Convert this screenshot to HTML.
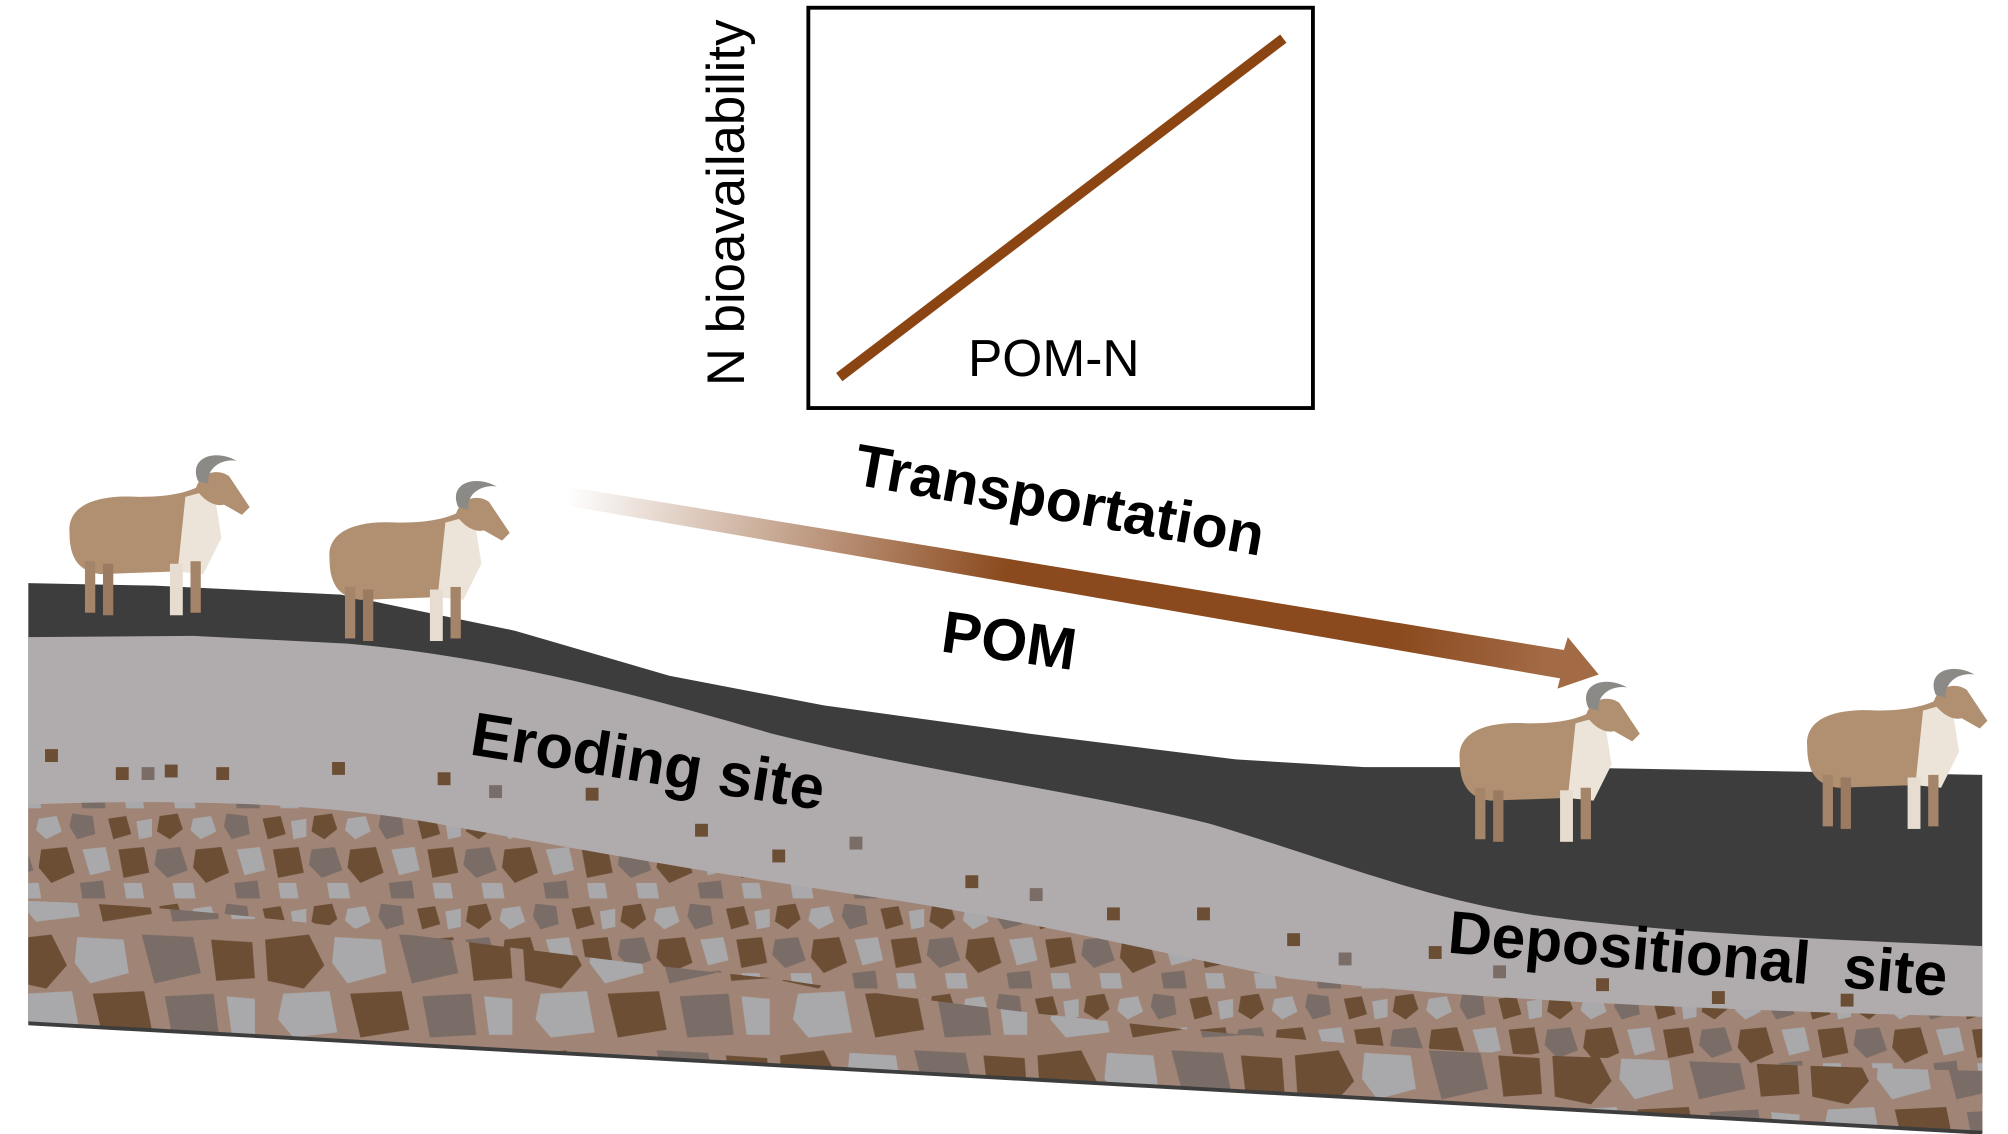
<!DOCTYPE html>
<html><head><meta charset="utf-8"><style>html,body{margin:0;padding:0;background:#fff}svg{display:block}</style></head>
<body>
<svg width="2008" height="1134" viewBox="0 0 1560 881" preserveAspectRatio="none" xmlns="http://www.w3.org/2000/svg">
<defs>
<linearGradient id="ag" x1="440" y1="385" x2="1200" y2="515" gradientUnits="userSpaceOnUse">
<stop offset="0" stop-color="#8b4a1e" stop-opacity="0"/><stop offset="0.45" stop-color="#8b4a1e" stop-opacity="1"/><stop offset="0.85" stop-color="#8b4a1e"/><stop offset="1" stop-color="#a26a45"/></linearGradient>
<pattern id="rk" width="120" height="70" patternUnits="userSpaceOnUse">
<rect width="120" height="70" fill="#a08476"/>
<polygon points="4,4 18,2 22,14 12,22 2,16" fill="#6b4e34"/>
<polygon points="30,6 44,4 48,16 36,22 28,15" fill="#a9a9ab"/>
<polygon points="56,2 72,4 74,18 60,22 54,12" fill="#7a6c66"/>
<polygon points="84,6 98,4 102,18 88,22" fill="#6b4e34"/>
<polygon points="106,8 118,6 118,20 108,22" fill="#a9a9ab"/>
<polygon points="2,30 20,28 26,46 10,52 0,42" fill="#7a6c66"/>
<polygon points="32,30 52,28 58,48 40,56 30,44" fill="#6b4e34"/>
<polygon points="64,30 82,28 86,46 70,50" fill="#a9a9ab"/>
<polygon points="92,30 112,28 116,48 96,52" fill="#6b4e34"/>
<polygon points="14,56 30,56 32,68 16,68" fill="#a9a9ab"/>
<polygon points="62,56 80,54 82,68 64,68" fill="#7a6c66"/>
<polygon points="96,56 110,56 112,68 98,68" fill="#a9a9ab"/>
</pattern>
<pattern id="rk2" width="200" height="90" patternUnits="userSpaceOnUse">
<rect width="200" height="90" fill="#a08476"/>
<polygon points="6,10 40,6 52,30 36,48 8,42" fill="#6b4e34"/>
<polygon points="60,8 96,10 100,36 70,44 58,28" fill="#a9a9ab"/>
<polygon points="110,6 150,8 156,36 120,44" fill="#7a6c66"/>
<polygon points="164,10 196,12 198,40 168,42" fill="#6b4e34"/>
<polygon points="20,52 56,50 62,82 28,86 16,72" fill="#a9a9ab"/>
<polygon points="72,52 112,50 118,80 80,86" fill="#6b4e34"/>
<polygon points="128,54 166,52 170,84 134,86" fill="#7a6c66"/>
<polygon points="176,54 198,56 198,84 180,84" fill="#a9a9ab"/>
</pattern>
<g id="goat">
<path d="M6,58 C4,36 28,28 60,30 C85,30 100,26 110,20 L118,50 C112,74 100,86 88,88 L30,90 C12,88 6,76 6,58Z" fill="#b09070"/>
<path d="M96,30 L118,24 L124,62 L110,90 L90,88 Z" fill="#ece4d8"/>
<rect x="18" y="80" width="8" height="40" fill="#a5856a"/>
<rect x="32" y="82" width="8" height="40" fill="#9a7a60"/>
<rect x="84" y="82" width="10" height="40" fill="#e6ddd0"/>
<rect x="100" y="80" width="8" height="40" fill="#a5856a"/>
<path d="M104,24 C108,10 122,8 130,14 L146,38 L140,44 L126,36 C118,38 110,32 104,24Z" fill="#b09070"/>
<path d="M106,18 C98,0 118,-8 136,2 C124,0 112,8 114,20Z" fill="#8c8a86"/>
</g>
</defs>

<!-- box -->
<rect x="628" y="6" width="392" height="311" fill="#fff" stroke="#000" stroke-width="3"/>
<line x1="652" y1="293" x2="997" y2="30" stroke="#8b4513" stroke-width="8"/>
<text x="752" y="292" font-family="Liberation Sans, sans-serif" font-size="40" fill="#000">POM-N</text>
<text transform="translate(578,300) rotate(-90)" font-family="Liberation Sans, sans-serif" font-size="41" fill="#000">N bioavailability</text>

<!-- layers -->
<polygon points="22,453 120,455 265,462 400,490 520,525 640,548 800,570 960,590 1060,596 1200,596 1540,602 1540,880 22,795" fill="#3d3d3d"/>
<path d="M22,495 L150,494 L270,500 C380,510 480,535 600,570 C720,600 840,615 940,640 C1040,670 1110,700 1200,712 C1300,725 1420,730 1540,735 L1540,880 L22,795Z" fill="#b0acad"/>
<path d="M22,625 C150,620 260,625 340,640 C450,660 560,680 700,700 C820,720 900,740 1000,760 C1150,778 1350,785 1540,790 L1540,880 L22,795Z" fill="url(#rk)"/>
<path d="M22,700 C200,705 400,740 600,760 C800,790 1000,810 1200,820 C1350,826 1450,830 1540,832 L1540,880 L22,795Z" fill="url(#rk2)"/>
<g fill="#6b4e34">
<rect x="35" y="582" width="10" height="10"/><rect x="90" y="596" width="10" height="10"/><rect x="128" y="594" width="10" height="10"/><rect x="168" y="596" width="10" height="10"/><rect x="258" y="592" width="10" height="10"/><rect x="340" y="600" width="10" height="10"/><rect x="455" y="612" width="10" height="10"/><rect x="540" y="640" width="10" height="10"/><rect x="600" y="660" width="10" height="10"/><rect x="750" y="680" width="10" height="10"/><rect x="860" y="705" width="10" height="10"/><rect x="930" y="705" width="10" height="10"/><rect x="1000" y="725" width="10" height="10"/><rect x="1110" y="735" width="10" height="10"/><rect x="1240" y="760" width="10" height="10"/><rect x="1330" y="770" width="10" height="10"/><rect x="1430" y="772" width="10" height="10"/>
</g>
<g fill="#7a6c66"><rect x="110" y="596" width="10" height="10"/><rect x="380" y="610" width="10" height="10"/><rect x="660" y="650" width="10" height="10"/><rect x="800" y="690" width="10" height="10"/><rect x="1040" y="740" width="10" height="10"/><rect x="1160" y="750" width="10" height="10"/></g>
<line x1="22" y1="795" x2="1540" y2="880" stroke="#3d3d3d" stroke-width="3"/>

<!-- arrow -->
<polygon points="440,378 1215,505 1218,495 1242,524 1210,535 1212,527 436,392" fill="url(#ag)"/>

<!-- texts -->
<g font-family="Liberation Sans, sans-serif" font-weight="bold" fill="#000">
<text transform="translate(662,376) rotate(10)" font-size="46">Transportation</text>
<text transform="translate(730,506) rotate(8)" font-size="46">POM</text>
<text transform="translate(364,586) rotate(9)" font-size="48">Eroding site</text>
<text transform="translate(1124,740) rotate(5)" font-size="47" xml:space="preserve">Depositional  site</text>
</g>

<!-- goats -->
<use href="#goat" transform="translate(48,356)"/>
<use href="#goat" transform="translate(250,376)"/>
<use href="#goat" transform="translate(1128,532)"/>
<use href="#goat" transform="translate(1398,522)"/>
</svg>
</body></html>
